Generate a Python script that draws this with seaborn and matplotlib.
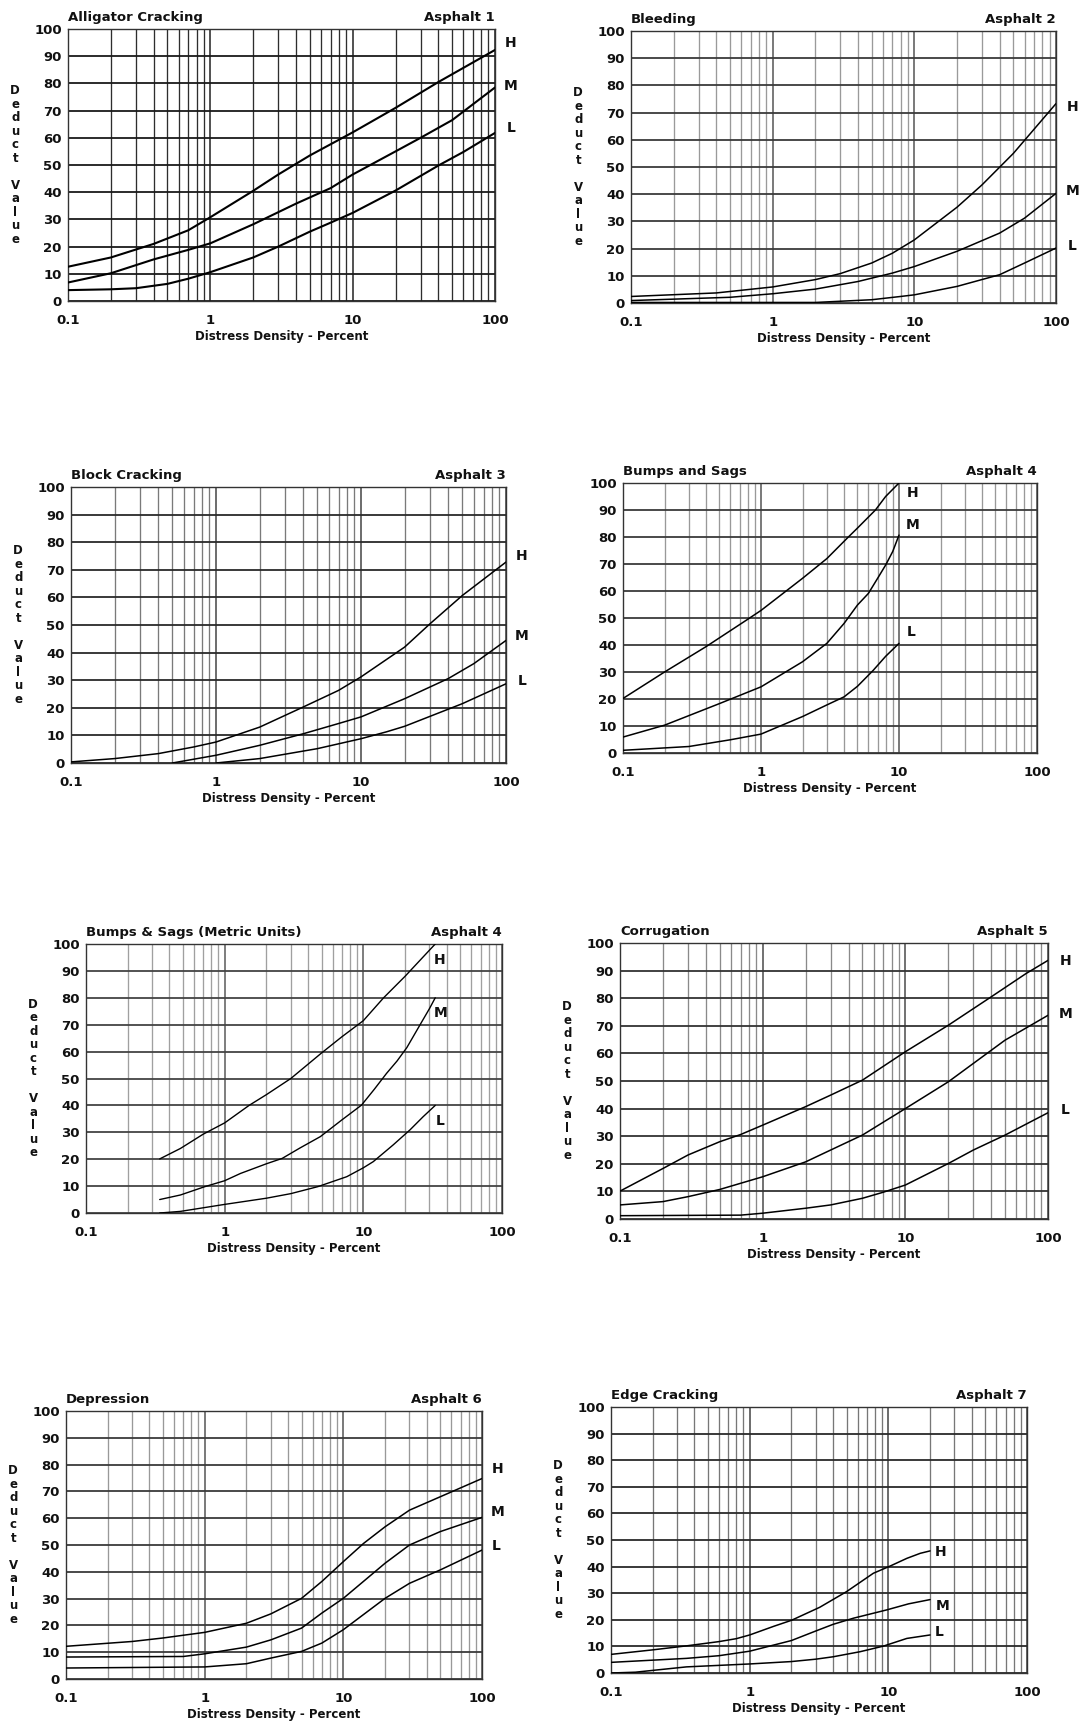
import numpy as np
import pandas as pd
import matplotlib
matplotlib.use("Agg")
import matplotlib.pyplot as plt
from matplotlib.ticker import FixedLocator, FixedFormatter, LogLocator, NullFormatter
import seaborn as sns

# ---------------- DATA ----------------
titles = ["Alligator Cracking", "Bleeding", "Block Cracking", "Bumps and Sags",
          "Bumps & Sags (Metric Units)", "Corrugation", "Depression", "Edge Cracking"]
codes = ["Asphalt 1", "Asphalt 2", "Asphalt 3", "Asphalt 4",
         "Asphalt 4", "Asphalt 5", "Asphalt 6", "Asphalt 7"]
severities = ["H", "M", "L"]
x_ticks = [0.1, 1, 10, 100]
x_tick_labels = ["0.1", "1", "10", "100"]
y_ticks = [0, 10, 20, 30, 40, 50, 60, 70, 80, 90, 100]

# 1 Alligator cracking
ac_H_x = [0.1, 0.2, 0.4, 0.7, 1, 2, 3, 5, 10, 20, 40, 100]
ac_H_y = [12.6, 16, 21, 26, 30.8, 40.5, 46.5, 53.5, 62, 71, 80.5, 92.3]
ac_M_x = [0.1, 0.2, 0.4, 0.7, 1, 2, 4, 7, 10, 20, 30, 50, 100]
ac_M_y = [6.8, 10.2, 15.3, 18.8, 21.2, 28.2, 35.8, 41.5, 46.5, 55, 60, 66.5, 78.5]
ac_L_x = [0.1, 0.2, 0.3, 0.5, 0.7, 1, 2, 3, 5, 7, 10, 20, 40, 60, 100]
ac_L_y = [4, 4.3, 4.7, 6.3, 8.2, 10.6, 16, 20, 25.5, 28.8, 32.4, 40.6, 49.8, 54.8, 61.8]

# 2 Bleeding
bl_H_x = [0.1, 0.4, 1, 2, 3, 5, 7, 10, 20, 30, 50, 100]
bl_H_y = [2.4, 3.7, 5.9, 8.6, 10.8, 14.7, 18.3, 23.2, 35.2, 43.4, 55, 73.3]
bl_M_x = [0.1, 0.5, 1, 2, 4, 7, 10, 20, 40, 60, 100]
bl_M_y = [0.9, 2.1, 3.4, 5.1, 7.9, 11, 13.4, 19, 25.7, 31.2, 40.3]
bl_L_x = [0.1, 2, 5, 8, 10, 20, 40, 60, 100]
bl_L_y = [0.2, 0.2, 1.2, 2.4, 3, 6.1, 10.4, 14.7, 20.2]

# 3 Block cracking
bc_H_x = [0.1, 0.2, 0.4, 0.7, 1, 2, 4, 7, 10, 20, 30, 50, 100]
bc_H_y = [0.4, 1.6, 3.4, 5.8, 7.6, 13, 20.3, 26.3, 31.2, 42, 50.5, 60.7, 72.8]
bc_M_x = [0.5, 1, 2, 4, 7, 10, 20, 40, 60, 100]
bc_M_y = [0, 2.8, 6.4, 10.6, 14.3, 16.7, 23.3, 30.6, 36, 44.4]
bc_L_x = [1, 2, 5, 10, 15, 20, 50, 100]
bc_L_y = [0, 1.6, 5.2, 8.8, 11.3, 13.3, 21.5, 28.7]

# 4 Bumps and sags
bs_H_x = [0.1, 0.2, 0.4, 0.8, 1, 2, 3, 4.2, 5, 6.75, 8, 10]
bs_H_y = [20.2, 30, 39.4, 49.5, 52.8, 64.7, 72, 79.5, 83.3, 90, 95, 100]
bs_M_x = [0.1, 0.2, 0.5, 1, 2, 3, 4, 5, 6, 7, 8, 9, 10]
bs_M_y = [5.9, 10.3, 18.3, 24.5, 33.8, 40.6, 48, 54.8, 59.1, 64.7, 69.6, 74.6, 80.7]
bs_L_x = [0.1, 0.3, 0.6, 1, 2, 3, 4, 5, 6.5, 8, 10]
bs_L_y = [1, 2.4, 4.9, 7, 13.5, 17.8, 20.8, 24.7, 30.6, 35.8, 40.6]

# 5 Bumps & sags (metric)
bm_H_x = [0.34, 0.48, 0.7, 1, 1.5, 2, 3, 5, 7, 10, 14, 20, 33]
bm_H_y = [20.1, 24, 29.3, 33.5, 40, 44, 50, 59.5, 65.5, 71.5, 80, 88, 100]
bm_M_x = [0.34, 0.48, 0.72, 1, 1.3, 2, 2.6, 3.5, 4.9, 7, 9.7, 12, 14.7, 17.5, 20.6, 25.6, 30, 33]
bm_M_y = [5, 6.7, 9.8, 12, 14.7, 18.3, 20.3, 24.2, 28.4, 34.6, 40.1, 46, 51.9, 56.5, 61.5, 69.9, 76, 80]
bm_L_x = [0.34, 0.48, 1, 2, 3, 4.7, 7.6, 10, 11.8, 16.4, 21.7, 27, 33]
bm_L_y = [0, 0.6, 3.2, 5.5, 7.2, 9.8, 13.5, 16.8, 19.1, 25.3, 30.9, 35.8, 40]

# 6 Corrugation
co_H_x = [0.1, 0.2, 0.3, 0.5, 0.7, 1, 2, 3, 5, 10, 20, 40, 70, 100]
co_H_y = [10.1, 18.3, 23.2, 28, 30.6, 34, 40.7, 44.9, 50.3, 60.6, 70.2, 80.5, 88.9, 93.7]
co_M_x = [0.1, 0.2, 0.3, 0.5, 1, 2, 3, 5, 10, 20, 50, 100]
co_M_y = [5.1, 6.3, 8.1, 10.7, 15.3, 20.7, 25, 30.4, 40, 49.7, 64.8, 73.8]
co_L_x = [0.1, 0.7, 1, 2, 3, 5, 7, 10, 20, 30, 50, 100]
co_L_y = [1.2, 1.4, 2.1, 3.9, 5.1, 7.5, 9.7, 12.3, 20.1, 25, 30.4, 38.5]

# 7 Depression
de_H_x = [0.1, 0.3, 0.5, 1, 2, 3, 5, 7, 10, 14, 20, 30, 50, 100]
de_H_y = [12.2, 14, 15.3, 17.4, 20.8, 24.3, 30.1, 36.4, 43.8, 50.6, 56.8, 63, 68, 74.8]
de_M_x = [0.1, 0.7, 1, 2, 3, 5, 7, 10, 20, 30, 50, 100]
de_M_y = [8.2, 8.4, 9.4, 11.9, 14.6, 19, 24.6, 30.1, 43.2, 50, 55, 60.3]
de_L_x = [0.1, 1, 2, 3, 5, 7, 10, 20, 30, 50, 100]
de_L_y = [4.1, 4.5, 5.7, 7.8, 10.3, 13.4, 18.4, 30.1, 35.7, 40.7, 48.1]

# 8 Edge cracking
ec_H_x = [0.1, 0.2, 0.35, 0.6, 0.8, 1, 1.5, 2, 3.2, 5, 7.8, 10.3, 13.6, 17, 20]
ec_H_y = [7, 8.7, 10.2, 11.8, 12.9, 14.3, 17.6, 19.8, 24.7, 30.6, 37.5, 40.2, 43.1, 45, 45.9]
ec_M_x = [0.1, 0.35, 0.6, 1, 2, 3, 4, 5.6, 9.7, 14, 20]
ec_M_y = [4, 5.5, 6.5, 8.2, 12.2, 15.8, 18.3, 20.6, 23.7, 26, 27.6]
ec_L_x = [0.1, 0.15, 0.35, 1, 2, 3, 4, 6.25, 9.2, 13.6, 20]
ec_L_y = [0, 0.3, 2.3, 3.4, 4.3, 5.2, 6.1, 8, 10.1, 13, 14.3]

curves = [
    (ac_H_x, ac_H_y, ac_M_x, ac_M_y, ac_L_x, ac_L_y),
    (bl_H_x, bl_H_y, bl_M_x, bl_M_y, bl_L_x, bl_L_y),
    (bc_H_x, bc_H_y, bc_M_x, bc_M_y, bc_L_x, bc_L_y),
    (bs_H_x, bs_H_y, bs_M_x, bs_M_y, bs_L_x, bs_L_y),
    (bm_H_x, bm_H_y, bm_M_x, bm_M_y, bm_L_x, bm_L_y),
    (co_H_x, co_H_y, co_M_x, co_M_y, co_L_x, co_L_y),
    (de_H_x, de_H_y, de_M_x, de_M_y, de_L_x, de_L_y),
    (ec_H_x, ec_H_y, ec_M_x, ec_M_y, ec_L_x, ec_L_y),
]

# ---------------- LAYOUT (pixel boxes: left, right, top, bottom) ----------------
W, H = 1081, 1722
boxes = [(68, 495, 29, 301), (631, 1056, 31, 303),
         (71, 506, 487, 763), (623, 1037, 483, 753),
         (86, 502, 944, 1213), (620, 1048, 943, 1219),
         (66, 482, 1411, 1679), (611, 1027, 1407, 1673)]
# severity label positions (data coords) per panel: H, M, L
label_pos = [
    [(129, 94.7), (129, 79), (129, 63.5)],
    [(131, 72), (131, 41.3), (131, 21)],
    [(129, 74.9), (129, 46), (129, 29.7)],
    [(12.6, 96.3), (12.6, 84.5), (12.2, 44.9)],
    [(35.7, 94.2), (36, 74.3), (35.7, 34.3)],
    [(132, 93.4), (132, 74.2), (132, 39.4)],
    [(129, 78.5), (129, 62.4), (127, 49.6)],
    [(24, 45.4), (24.5, 25.3), (23.3, 15.6)],
]
show_ylabel = [True, True, True, False, True, True, True, True]
vmajor_color = ["#222222", "#555555", "#444444", "#555555", "#5a5a5a", "#4a4a4a", "#555555", "#444444"]
vminor_color = ["#2e2e2e", "#9a9a9a", "#7a7a7a", "#999999", "#a0a0a0", "#8a8a8a", "#999999", "#777777"]
hgrid_color = ["#1a1a1a", "#3a3a3a", "#2a2a2a", "#3a3a3a", "#444444", "#333333", "#3a3a3a", "#2a2a2a"]
curve_width = [1.5, 1.1, 1.1, 1.1, 1.0, 1.1, 1.1, 1.1]

sns.set_style("white")
plt.rcParams["font.family"] = ["DejaVu Sans"]

fig = plt.figure(figsize=(W / 100, H / 100), dpi=100)
fig.patch.set_facecolor("white")

for i, (l, r, t, b) in enumerate(boxes):
    ax = fig.add_axes([l / W, 1 - b / H, (r - l) / W, (b - t) / H])
    hx, hy, mx, my, lx, ly = curves[i]
    df = pd.DataFrame({
        "x": list(hx) + list(mx) + list(lx),
        "y": list(hy) + list(my) + list(ly),
        "sev": ["H"] * len(hx) + ["M"] * len(mx) + ["L"] * len(lx),
    })
    sns.lineplot(data=df, x="x", y="y", hue="sev", palette={"H": "black", "M": "black", "L": "black"},
                 estimator=None, sort=False, legend=False, ax=ax, linewidth=curve_width[i],
                 zorder=5)
    ax.set_xscale("log")
    ax.set_xlim(0.1, 100)
    ax.set_ylim(0, 100)
    ax.xaxis.set_major_locator(FixedLocator(x_ticks))
    ax.xaxis.set_major_formatter(FixedFormatter(x_tick_labels))
    ax.xaxis.set_minor_locator(LogLocator(base=10, subs=np.arange(2, 10)))
    ax.xaxis.set_minor_formatter(NullFormatter())
    ax.yaxis.set_major_locator(FixedLocator(y_ticks))
    ax.yaxis.set_major_formatter(FixedFormatter([str(v) for v in y_ticks]))
    ax.grid(True, which="major", axis="y", color=hgrid_color[i], linewidth=1.3)
    ax.grid(True, which="major", axis="x", color=vmajor_color[i], linewidth=1.1)
    ax.grid(True, which="minor", axis="x", color=vminor_color[i], linewidth=0.95)
    ax.tick_params(axis="both", which="both", length=0)
    ax.tick_params(axis="y", pad=4.5, labelsize=9.5)
    ax.tick_params(axis="x", pad=9.5, labelsize=9.5)
    for lab in ax.get_xticklabels() + ax.get_yticklabels():
        lab.set_fontweight("bold")
        lab.set_color("#111111")
    for sp in ax.spines.values():
        sp.set_color("#333333")
        sp.set_linewidth(1.0)
    ax.set_xlabel("Distress Density - Percent", fontsize=8.5, fontweight="bold", labelpad=2, color="#111111")
    ax.set_ylabel("")
    ax.set_title(titles[i], loc="left", fontsize=9.5, fontweight="bold", pad=6, color="#111111")
    ax.set_title(codes[i], loc="right", fontsize=9.5, fontweight="bold", pad=6, color="#111111")
    if show_ylabel[i]:
        ax.annotate("\n".join(list("Deduct") + [" "] + list("Value")), xy=(0, 0.5), xycoords="axes fraction",
                    xytext=(-38, 0), textcoords="offset points", ha="center", va="center",
                    fontsize=8.5, fontweight="bold", linespacing=1.05, color="#111111")
    for sev, (px, py) in zip(severities, label_pos[i]):
        ax.text(px, py, sev, ha="center", va="center", fontsize=10, fontweight="bold",
                clip_on=False, color="#111111")

fig.savefig("out.png", dpi=100, facecolor="white")
